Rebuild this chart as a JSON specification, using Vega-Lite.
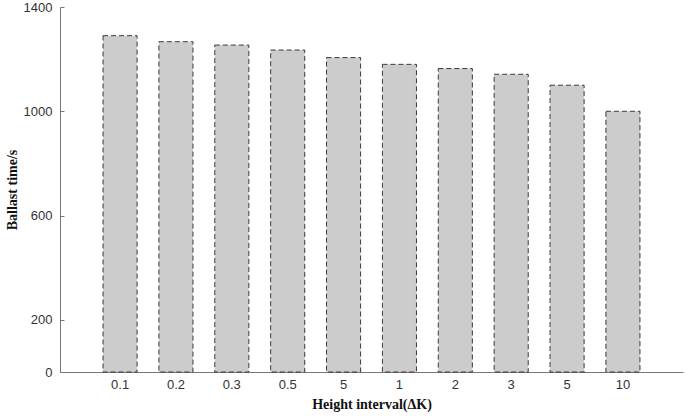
{
  "$schema": "https://vega.github.io/schema/vega-lite/v6.json",
  "width": 623,
  "height": 365,
  "autosize": "none",
  "padding": {"left": 60, "top": 7, "right": 2, "bottom": 44},
  "background": "white",
  "data": {
    "values": [
      {"k": 1, "interval": "0.1", "time": 1290},
      {"k": 2, "interval": "0.2", "time": 1267},
      {"k": 3, "interval": "0.3", "time": 1254},
      {"k": 4, "interval": "0.5", "time": 1235},
      {"k": 5, "interval": "5", "time": 1206},
      {"k": 6, "interval": "1", "time": 1180},
      {"k": 7, "interval": "2", "time": 1164},
      {"k": 8, "interval": "3", "time": 1142},
      {"k": 9, "interval": "5", "time": 1100},
      {"k": 10, "interval": "10", "time": 1000}
    ]
  },
  "mark": {
    "type": "bar",
    "fill": "#cccccc",
    "stroke": "#3a3a3a",
    "strokeWidth": 1,
    "strokeDash": [5, 3]
  },
  "encoding": {
    "x": {
      "field": "k",
      "type": "ordinal",
      "scale": {"paddingInner": 0.39, "paddingOuter": 0.77},
      "axis": {
        "title": "Height interval(ΔK)",
        "labelAngle": 0,
        "labelExpr": "['0.1','0.2','0.3','0.5','5','1','2','3','5','10'][datum.value - 1]",
        "tickSize": -4,
        "labelPadding": 10,
        "titlePadding": 6
      }
    },
    "y": {
      "field": "time",
      "type": "quantitative",
      "scale": {"domain": [0, 1400], "nice": false},
      "axis": {
        "title": "Ballast time/s",
        "format": "d",
        "values": [0, 200, 600, 1000, 1400],
        "grid": false,
        "tickSize": -4,
        "labelPadding": 12,
        "titlePadding": 4
      }
    }
  },
  "config": {
    "view": {"stroke": null},
    "axis": {
      "domainColor": "#777777",
      "tickColor": "#777777",
      "labelFont": "Liberation Sans",
      "labelFontSize": 13,
      "labelColor": "#333333",
      "titleFont": "Liberation Serif",
      "titleFontSize": 14,
      "titleFontWeight": "bold",
      "titleColor": "#111111"
    }
  }
}
